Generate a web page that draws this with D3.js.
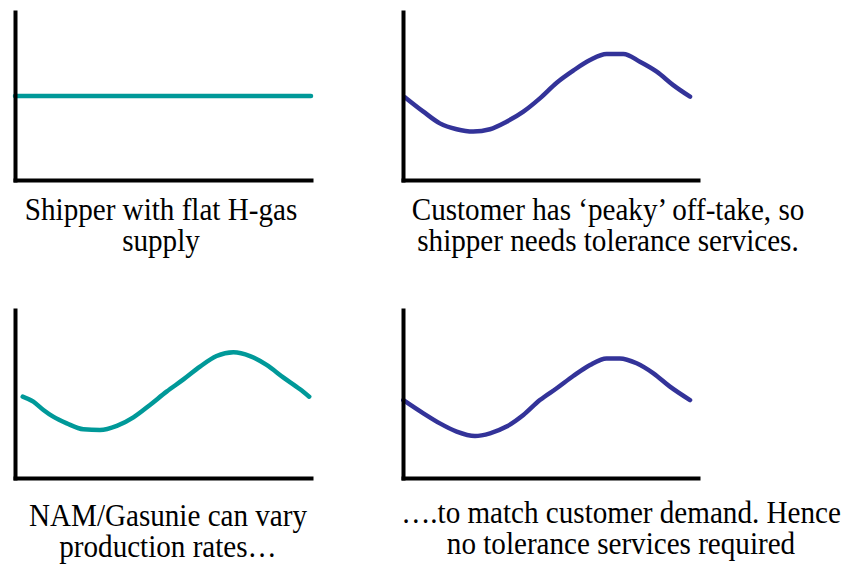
<!DOCTYPE html>
<html>

<head>
  <meta charset="utf-8">
  <title>Flat supply vs peaky demand</title>
  <script type="text/javascript" src="https://d3js.org/d3.v7.min.js"></script>
  <style>
    body {
        margin: 0;
        background: #ffffff;
    }
    .axis path {
        stroke: #000;
        stroke-width: 4px;
        stroke-linecap: square;
    }
  </style>
</head>

<body>
  <script type="text/javascript">
    var w = 847;
    var h = 567;

    // data (x: 0-100 across the period, y: 0-100 level)
    var flatX = [0, 100];
    var flatY = [50, 50];

    var demandTopX = [0.7, 6.9, 12.5, 18.2, 23.8, 29.5, 35.1, 40.8, 46.4, 52.1, 57.7, 63.4, 69.0, 74.7, 80.3, 86.0, 91.6, 97.3];
    var demandTopY = [49.2, 40.7, 33.7, 30.2, 28.8, 30.2, 34.7, 40.7, 48.6, 57.9, 65.1, 71.4, 75.0, 75.0, 70.4, 64.5, 56.5, 49.6];

    var productionX = [2.6, 6.2, 9.6, 12.9, 17.5, 23.1, 28.7, 34.4, 40.0, 45.6, 51.2, 56.9, 62.5, 68.1, 73.8, 79.4, 85.0, 90.6, 96.3, 99.4];
    var productionY = [48.4, 45.4, 40.5, 36.5, 32.5, 29.0, 28.6, 31.0, 36.1, 43.5, 51.4, 58.7, 66.3, 72.6, 74.8, 72.6, 67.3, 59.9, 52.8, 48.4];

    var demandBottomX = [0.1, 6.9, 12.5, 18.2, 24.4, 29.5, 35.1, 40.8, 46.4, 52.1, 57.7, 63.4, 69.0, 73.5, 79.2, 84.9, 90.5, 97.3];
    var demandBottomY = [46.4, 38.5, 32.5, 27.6, 25.0, 26.6, 30.6, 37.5, 46.4, 53.4, 60.7, 67.3, 71.2, 71.2, 68.3, 62.3, 54.4, 46.4];

    var captionLines1 = ["Shipper with flat H-gas", "Customer has \u2018peaky\u2019 off-take, so",
                         "NAM/Gasunie can vary", "\u2026.to match customer demand. Hence"];
    var captionLines2 = ["supply", "shipper needs tolerance services.",
                         "production rates\u2026", "no tolerance services required"];

    var series = [
      {xs: flatX, ys: flatY, color: "#009999"},
      {xs: demandTopX, ys: demandTopY, color: "#333399"},
      {xs: productionX, ys: productionY, color: "#009999"},
      {xs: demandBottomX, ys: demandBottomY, color: "#333399"}
    ];

    // panel boxes
    var panels = [
      {left: 15, right: 311, top: 12, bottom: 180, cx: 161, base: 220},
      {left: 403, right: 698, top: 12, bottom: 180, cx: 608, base: 220},
      {left: 15, right: 311, top: 310, bottom: 478, cx: 168, base: 526},
      {left: 403, right: 698, top: 310, bottom: 478, cx: 621, base: 523}
    ];

    var svg = d3.select("body").append("svg")
      .attr("width", w)
      .attr("height", h);

    panels.forEach(function(p, i) {
      var x = d3.scaleLinear().domain([0, 100]).range([p.left, p.right]);
      var y = d3.scaleLinear().domain([0, 100]).range([p.bottom, p.top]);

      // the line
      var s = series[i];
      var pts = s.xs.map(function(d, j) { return [d, s.ys[j]]; });
      var line = d3.line()
        .x(function(d) { return x(d[0]); })
        .y(function(d) { return y(d[1]); })
        .curve(d3.curveMonotoneX);

      svg.append("path")
        .datum(pts)
        .attr("fill", "none")
        .attr("stroke", s.color)
        .attr("stroke-width", 4.5)
        .attr("stroke-linecap", "round")
        .attr("d", line);

      // axes, no ticks
      svg.append("g")
        .attr("class", "axis")
        .attr("transform", "translate(0," + p.bottom + ")")
        .call(d3.axisBottom(x).ticks(0).tickSizeOuter(0));

      svg.append("g")
        .attr("class", "axis")
        .attr("transform", "translate(" + p.left + ",0)")
        .call(d3.axisLeft(y).ticks(0).tickSizeOuter(0));

      // caption, two lines
      [captionLines1[i], captionLines2[i]].forEach(function(c, k) {
        svg.append("text")
          .attr("transform", "translate(" + p.cx + "," + (p.base + k * 31) + ") scale(0.91,1)")
          .attr("text-anchor", "middle")
          .style("font-family", "\"Liberation Serif\"")
          .style("font-size", "32px")
          .style("fill", "#000")
          .text(c);
      });
    });
  </script>
</body>

</html>
